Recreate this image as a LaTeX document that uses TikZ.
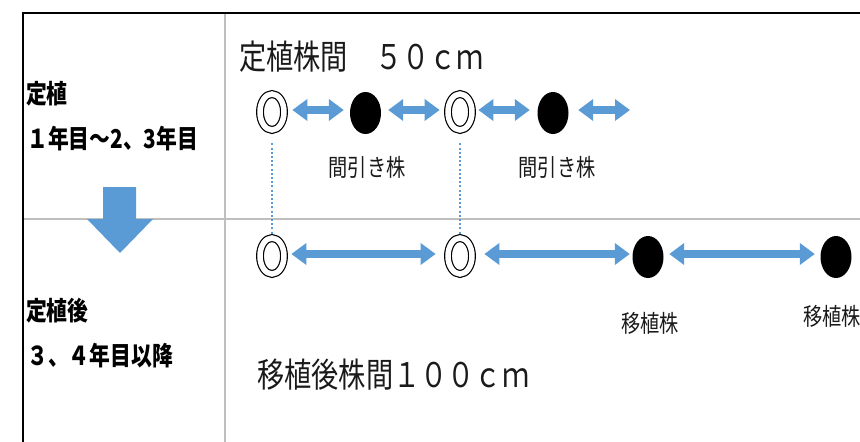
\documentclass[tikz,border=0pt]{standalone}
\usepackage{fontspec}
\usetikzlibrary{arrows.meta,shapes.geometric}
\newfontfamily\jptitle[FakeStretch=0.8]{Noto Sans CJK JP}
\newfontfamily\jpsmall[FakeStretch=0.8]{Noto Sans CJK JP}
\newfontfamily\jpleft[FakeStretch=0.8]{Noto Sans CJK JP}
\definecolor{obl}{HTML}{5B9BD5}
\definecolor{ogr}{HTML}{BFBFBF}
\definecolor{otx}{HTML}{1A1A1A}
\tikzset{
  dbl/.style={ellipse,draw=black,line width=1.2pt,double=white,double distance=5.5pt,
    minimum width=24pt,minimum height=36pt,inner sep=0pt,outer sep=3.35pt},
  blk/.style={ellipse,fill=black,minimum width=31pt,minimum height=42pt,inner sep=0pt},
  fatarrow/.style={draw=obl,line width=8pt,
    {Triangle[length=15pt,width=21pt]}-{Triangle[length=15pt,width=21pt]}},
  guide/.style={draw=obl,line width=2pt,dash pattern=on 2pt off 2.2pt},
  titletext/.style={inner sep=0pt,text=otx,font=\jptitle\fontsize{34}{40}\selectfont},
  smalltext/.style={inner sep=0pt,text=otx,font=\jpsmall\fontsize{24}{28}\selectfont},
  lefttext/.style={inner sep=0pt,anchor=west,text=black,font=\jpleft\bfseries\fontsize{26}{30}\selectfont},
  gridline/.style={draw=ogr,line width=2pt}
}
\begin{document}
\begin{tikzpicture}[x=1pt,y=-1pt]
\useasboundingbox (0,0) rectangle (860,442);
% grid
\draw[gridline] (225,13) -- (225,442);
\draw[gridline] (23,219) -- (860,219);
\draw[black,line width=2pt] (23,442) -- (23,13) -- (860,13);
% big down arrow
\fill[obl] (103,187) -- (136,187) -- (136,219) -- (153,219) -- (120,253) -- (87,219) -- (103,219) -- cycle;
% left labels
\node[lefttext] (l1) at (26,94) {定植};
\node[lefttext] (l2) at (27,139) {１年目～2、3年目};
\node[lefttext] (l3) at (26,311) {定植後};
\node[lefttext] (l4) at (27,356) {３、４年目以降};
% titles
\node[titletext,anchor=west] (t1) at (239,57) {定植株間　５０ｃｍ};
\node[titletext,anchor=west] (t2) at (257,375) {移植後株間１００ｃｍ};
% top row
\node[dbl] (d1) at (272,112) {};
\node[blk] (b1) at (365.5,113) {};
\node[dbl] (d2) at (460,112) {};
\node[blk] (b2) at (553,113) {};
\coordinate (e0) at (630,110);
% bottom row
\node[dbl] (d3) at (272,256) {};
\node[dbl] (d4) at (460,256) {};
\node[blk] (b3) at (648,257) {};
\node[blk] (b4) at (836,257) {};
% guides
\draw[guide,shorten <=10pt,shorten >=1pt] (d1.south) -- (d3.north);
\draw[guide,shorten <=10pt,shorten >=1pt] (d2.south) -- (d4.north);
% top arrows
\draw[fatarrow,shorten <=5pt,shorten >=6pt] (d1.east |- 0,110) -- (b1.west |- 0,110);
\draw[fatarrow,shorten <=7pt,shorten >=5pt] (b1.east |- 0,110) -- (d2.west |- 0,110);
\draw[fatarrow,shorten <=3pt,shorten >=7.5pt] (d2.east |- 0,110) -- (b2.west |- 0,110);
\draw[fatarrow,shorten <=9.5pt] (b2.east |- 0,110) -- (e0);
% bottom arrows
\draw[fatarrow,shorten <=4pt,shorten >=9pt] (d3.east |- 0,254) -- (d4.west |- 0,254);
\draw[fatarrow,shorten <=9pt,shorten >=2.5pt] (d4.east |- 0,254) -- (b3.west |- 0,254);
\draw[fatarrow,shorten <=5.5pt,shorten >=5.5pt] (b3.east |- 0,254) -- (b4.west |- 0,254);
% labels
\node[smalltext] (m1) at (367,167) {間引き株};
\node[smalltext] (m2) at (557,167) {間引き株};
\node[smalltext] (p1) at (650,323) {移植株};
\node[smalltext] (p2) at (832,316) {移植株};
\end{tikzpicture}
\end{document}
